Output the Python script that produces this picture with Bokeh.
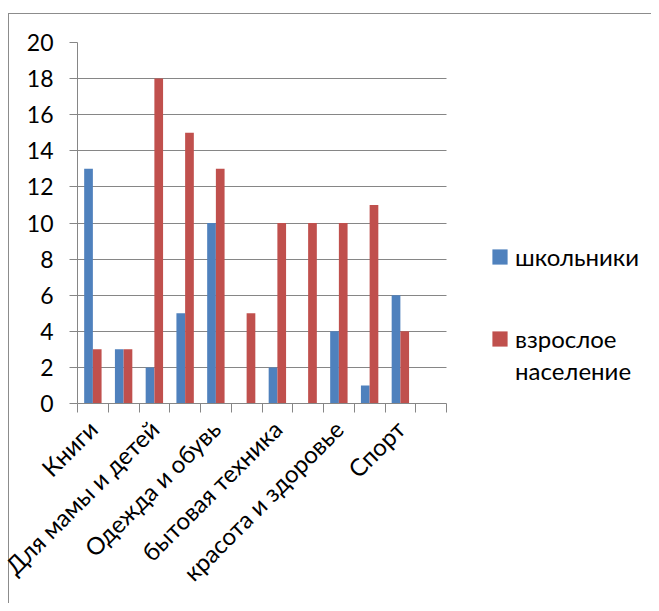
import math
from bokeh.plotting import figure
from bokeh.models import Range1d, FixedTicker, Legend, LegendItem, ColumnDataSource
from bokeh.transform import dodge
from bokeh.embed import file_html
from bokeh.resources import INLINE

# ---- data ----
category_index = list(range(12))
shown_positions = [0, 2, 4, 6, 8, 10]
shown_labels = ["Книги", "Для мамы и детей", "Одежда и обувь",
                "бытовая техника", "красота и здоровье", "Спорт"]
schoolchildren = [13, 3, 2, 5, 10, 0, 2, 0, 4, 1, 6, 0]
adults = [3, 3, 18, 15, 13, 5, 10, 10, 10, 11, 4, 0]
y_ticks = list(range(0, 21, 2))
legend_school = "школьники"
legend_adult_lines = ["взрослое", "население"]

BLUE = "#4F81BD"
RED = "#C0504D"
GRAY = "#868686"
FRAME = "#8c8c8c"
FONT = "Lato"
N = len(category_index)

src = ColumnDataSource(dict(
    x=[i + 0.5 for i in category_index],
    s=schoolchildren,
    a=adults,
))

W, H = 651, 603
FL, FT, FR, FB = 77, 42, 446, 403   # frame edges of the category area within the canvas
x_end = N * (W - FL) / (FR - FL)
p = figure(width=W, height=H, output_backend="svg", toolbar_location=None,
           x_range=Range1d(0, x_end), y_range=Range1d(0, 20),
           min_border_left=FL, min_border_top=FT,
           min_border_right=0, min_border_bottom=H - FB)
# outer chart-area border (left and top edges) painted behind a transparent canvas
p.styles = {"background":
            f"linear-gradient({FRAME},{FRAME}) 8px 13px / 1px 100% no-repeat, "
            f"linear-gradient({FRAME},{FRAME}) 8px 13px / 100% 1px no-repeat, white"}
p.outline_line_color = None
p.background_fill_color = "white"
p.border_fill_alpha = 0

bw = 0.283
rb = p.vbar(x=dodge("x", -bw / 2), top="s", width=bw, source=src,
            fill_color=BLUE, line_color=None)
rr = p.vbar(x=dodge("x", bw / 2), top="a", width=bw, source=src,
            fill_color=RED, line_color=None)
r_blank = p.vbar(x=[], top=[], width=bw, fill_alpha=0, line_alpha=0)

# y axis
p.yaxis.ticker = FixedTicker(ticks=y_ticks)
p.yaxis.axis_line_color = GRAY
p.yaxis.major_tick_line_color = GRAY
p.yaxis.major_tick_out = 8
p.yaxis.major_tick_in = 0
p.yaxis.minor_tick_line_color = None
p.yaxis.major_label_text_font = FONT
p.yaxis.major_label_text_font_size = "23px"
p.yaxis.major_label_text_color = "black"
p.yaxis.major_label_standoff = 16

p.ygrid.ticker = FixedTicker(ticks=y_ticks)
p.ygrid.grid_line_color = GRAY
p.ygrid.grid_line_width = 1
p.ygrid.cross_bounds = (0, N)
p.xgrid.grid_line_color = None

# x axis
p.xaxis.bounds = (0, N)
p.xaxis.ticker = FixedTicker(ticks=[i + 0.5 for i in shown_positions],
                             minor_ticks=list(range(N + 1)))
p.xaxis.major_label_overrides = {i + 0.5: lab for i, lab in zip(shown_positions, shown_labels)}
p.xaxis.major_tick_line_color = None
p.xaxis.minor_tick_line_color = GRAY
p.xaxis.minor_tick_out = 9
p.xaxis.minor_tick_in = 0
p.xaxis.axis_line_color = GRAY
p.xaxis.major_label_orientation = math.pi / 4
p.xaxis.major_label_text_font = FONT
p.xaxis.major_label_text_font_size = "24px"
p.xaxis.major_label_text_color = "black"
p.xaxis.major_label_standoff = 12


def make_legend(items, loc):
    lg = Legend(items=items, location=loc)
    lg.label_text_font = FONT
    lg.label_text_font_size = "24px"
    lg.label_text_color = "black"
    lg.glyph_width = 19
    lg.glyph_height = 19
    lg.label_standoff = 6
    lg.padding = 0
    lg.margin = 0
    lg.spacing = 3
    lg.border_line_color = None
    lg.background_fill_alpha = 0
    return lg


lg1 = make_legend([LegendItem(label=legend_school, renderers=[rb])], (413, 132))
lg2 = make_legend([LegendItem(label=legend_adult_lines[0], renderers=[rr]),
                   LegendItem(label=legend_adult_lines[1], renderers=[r_blank])], (413, 18))
p.add_layout(lg1, "center")
p.add_layout(lg2, "center")

open("out.html", "w").write(file_html(p, INLINE))
